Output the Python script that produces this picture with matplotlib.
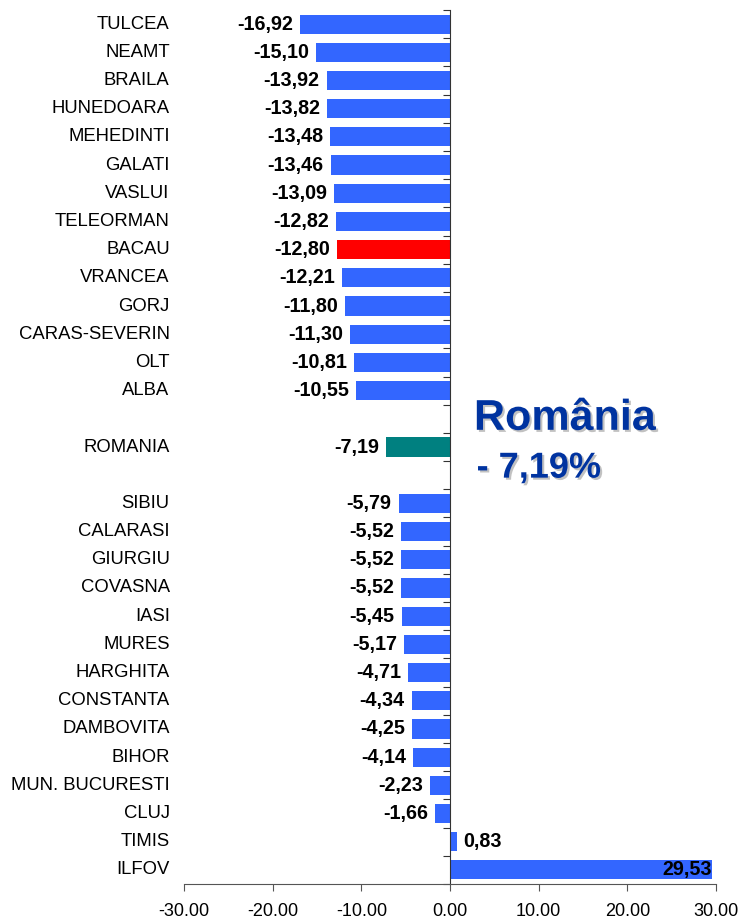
import matplotlib
matplotlib.use("Agg")
import matplotlib.pyplot as plt
import matplotlib.patheffects as pe

plt.rcParams['font.family'] = ['Liberation Sans', 'DejaVu Sans']

# date: judet si variatie (%), cu randuri goale in jurul mediei nationale
judete = ["TULCEA", "NEAMT", "BRAILA", "HUNEDOARA", "MEHEDINTI", "GALATI",
          "VASLUI", "TELEORMAN", "BACAU", "VRANCEA", "GORJ", "CARAS-SEVERIN",
          "OLT", "ALBA", "", "ROMANIA", "", "SIBIU", "CALARASI", "GIURGIU",
          "COVASNA", "IASI", "MURES", "HARGHITA", "CONSTANTA", "DAMBOVITA",
          "BIHOR", "MUN. BUCURESTI", "CLUJ", "TIMIS", "ILFOV"]
valori = [-16.92, -15.10, -13.92, -13.82, -13.48, -13.46,
          -13.09, -12.82, -12.80, -12.21, -11.80, -11.30,
          -10.81, -10.55, None, -7.19, None, -5.79, -5.52, -5.52,
          -5.52, -5.45, -5.17, -4.71, -4.34, -4.25,
          -4.14, -2.23, -1.66, 0.83, 29.53]
x_ticks = [-30, -20, -10, 0, 10, 20, 30]

culori_speciale = {"BACAU": "#FF0000", "ROMANIA": "#008080"}


def format_ro(v):
    return ("%.2f" % v).replace(".", ",")


fig = plt.figure(figsize=(7.42, 9.19), dpi=100)
ax = fig.add_axes([184 / 742, 35 / 919, 532 / 742, 874 / 919])

for i in range(len(judete)):
    v = valori[i]
    if v is None:
        continue
    c = culori_speciale.get(judete[i], "#3366FF")
    ax.barh(i, v, height=0.68, color=c)
    if v < 0:
        ax.annotate(format_ro(v), (v, i), xytext=(-5, 0), textcoords="offset points",
                    ha="right", va="center", fontsize=14.2, fontweight="bold")
    elif v < 25:
        ax.annotate(format_ro(v), (v, i), xytext=(4, 0), textcoords="offset points",
                    ha="left", va="center", fontsize=14.2, fontweight="bold")
    else:
        ax.annotate(format_ro(v), (v, i), xytext=(0, 0), textcoords="offset points",
                    ha="right", va="center", fontsize=14.2, fontweight="bold")

# etichete judete in stanga
for i in range(len(judete)):
    ax.text(-0.027, i, judete[i], transform=ax.get_yaxis_transform(),
            ha="right", va="center", fontsize=13.3)

ax.set_xlim(-30, 30)
ax.set_ylim(len(judete) - 0.5, -0.5)
ax.set_xticks(x_ticks)
ax.set_xticklabels(["%.2f" % t for t in x_ticks], fontsize=13)
ax.set_yticks([i - 0.5 for i in range(len(judete) + 1)])
ax.set_yticklabels([])

ax.spines["left"].set_position(("data", 0))
ax.spines["top"].set_visible(False)
ax.spines["right"].set_visible(False)
ax.spines["left"].set_color("#333333")
ax.spines["bottom"].set_color("#555555")
ax.tick_params(axis="x", direction="out", length=5, pad=9, color="#555555")
ax.tick_params(axis="y", direction="out", length=5, color="#333333")

umbra = [pe.withSimplePatchShadow(offset=(1.5, -1.5), shadow_rgbFace="#999999", alpha=0.6)]
ax.text(2.7, 14.0, "România", ha="left", va="center", fontsize=31,
        fontweight="bold", color="#0033A0", path_effects=umbra)
ax.text(3.0, 15.75, "- 7,19%", ha="left", va="center", fontsize=26,
        fontweight="bold", color="#0033A0", path_effects=umbra)

fig.savefig("out.png", dpi=100)
